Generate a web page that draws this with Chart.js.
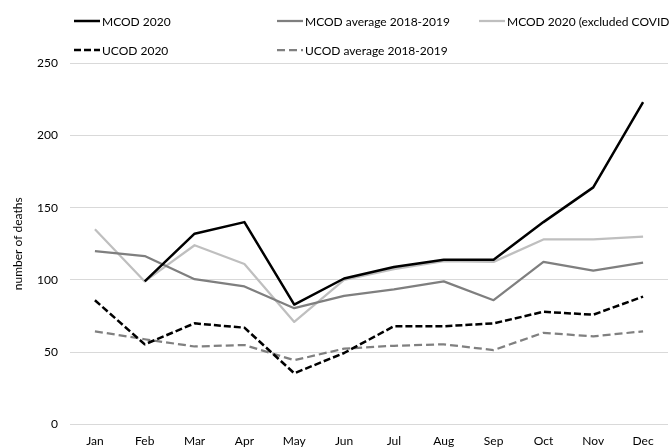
<!DOCTYPE html>
<html>
<head>
<meta charset="utf-8">
<script src="https://cdn.jsdelivr.net/npm/chart.js@4"></script>
<style>
  html, body { margin: 0; padding: 0; background: #fff; }
  #wrap { position: relative; width: 669px; height: 448px; }
  #legend { position: absolute; left: 0; top: 0; width: 669px; height: 60px; font: 12px Lato, sans-serif; color: #000; }
  .leg-item { position: absolute; display: flex; align-items: center; white-space: nowrap; }
  .leg-item svg { margin-right: 2px; }
</style>
</head>
<body>
<div id="wrap">
  <canvas id="chart" width="669" height="448"></canvas>
  <div id="legend"></div>
</div>
<script>
// data
const months = ['Jan', 'Feb', 'Mar', 'Apr', 'May', 'Jun', 'Jul', 'Aug', 'Sep', 'Oct', 'Nov', 'Dec'];
const mcod2020 = [null, 99, 132, 140, 83, 101, 109, 114, 114, 140, 164, 223];
const mcodAvg = [120, 116.5, 100.5, 95.5, 80.5, 89, 93.5, 99, 86, 112.5, 106.5, 112];
const mcodExCovid = [135, 99, 124, 111, 71, 100, 107.5, 113, 112.5, 128, 128, 130];
const ucod2020 = [86, 55.5, 70, 67, 35.5, 49.5, 68, 68, 70, 78, 76, 88.5];
const ucodAvg = [64.5, 59, 54, 55, 44.5, 52.5, 54.5, 55.5, 51.5, 63.5, 61, 64.5];
const yTicks = [0, 50, 100, 150, 200, 250];

const FONT = 'Lato, sans-serif';

function series(label, data, color, width, dash) {
    return {
        label: label,
        data: data,
        borderColor: color,
        backgroundColor: color,
        borderWidth: width,
        borderDash: dash,
        borderJoinStyle: 'round',
        pointRadius: 0,
        pointHoverRadius: 0,
        tension: 0,
        fill: false,
        spanGaps: false
    };
}

const datasets = [
    series('MCOD 2020', mcod2020, '#000000', 2.5, []),
    series('MCOD average 2018-2019', mcodAvg, '#7f7f7f', 2.25, []),
    series('MCOD 2020 (excluded COVID)', mcodExCovid, '#bfbfbf', 2.25, []),
    series('UCOD 2020', ucod2020, '#000000', 2.5, [7, 3]),
    series('UCOD average 2018-2019', ucodAvg, '#808080', 2.25, [8, 4])
];

const chart = new Chart(document.getElementById('chart'), {
    type: 'line',
    data: { labels: months, datasets: datasets },
    options: {
        responsive: false,
        animation: false,
        events: [],
        layout: { padding: { top: 63, right: 1, left: 0, bottom: 0 } },
        plugins: {
            legend: { display: false },
            tooltip: { enabled: false }
        },
        scales: {
            x: {
                offset: true,
                grid: { display: false, drawTicks: false },
                border: { display: false },
                ticks: { color: '#000', font: { family: FONT, size: 12 }, padding: 9, maxRotation: 0 },
                afterFit: s => { s.height = 23.4; }
            },
            y: {
                min: 0,
                max: 250,
                afterBuildTicks: s => { s.ticks = yTicks.map(v => ({ value: v })); },
                grid: { color: '#d9d9d9', lineWidth: 1, drawTicks: false },
                border: { display: false },
                ticks: { color: '#000', font: { family: FONT, size: 12 }, padding: 12 },
                title: {
                    display: true,
                    text: 'number of deaths',
                    color: '#000',
                    font: { family: FONT, size: 12 },
                    padding: { top: 11, bottom: 0 }
                },
                afterFit: s => { s.width = 70; }
            }
        }
    }
});

// legend built from the datasets, laid out in columns like the original
function buildLegend() {
    const slots = [
        { left: 74, top: 21 }, { left: 277, top: 21 }, { left: 479, top: 21 },
        { left: 74, top: 50 }, { left: 277, top: 50 }
    ];
    const box = document.getElementById('legend');
    chart.data.datasets.forEach((ds, i) => {
        const item = document.createElement('div');
        item.className = 'leg-item';
        item.style.left = slots[i].left + 'px';
        item.style.top = (slots[i].top - 8) + 'px';
        item.style.height = '16px';
        const dash = ds.borderDash.length ? ds.borderDash.join(' ') : 'none';
        item.innerHTML = `<svg width="26" height="6"><line x1="0" y1="3" x2="26" y2="3" stroke="${ds.borderColor}" stroke-width="${ds.borderWidth}" stroke-dasharray="${dash}"/></svg><span>${ds.label}</span>`;
        box.appendChild(item);
    });
}
buildLegend();
</script>
</body>
</html>
